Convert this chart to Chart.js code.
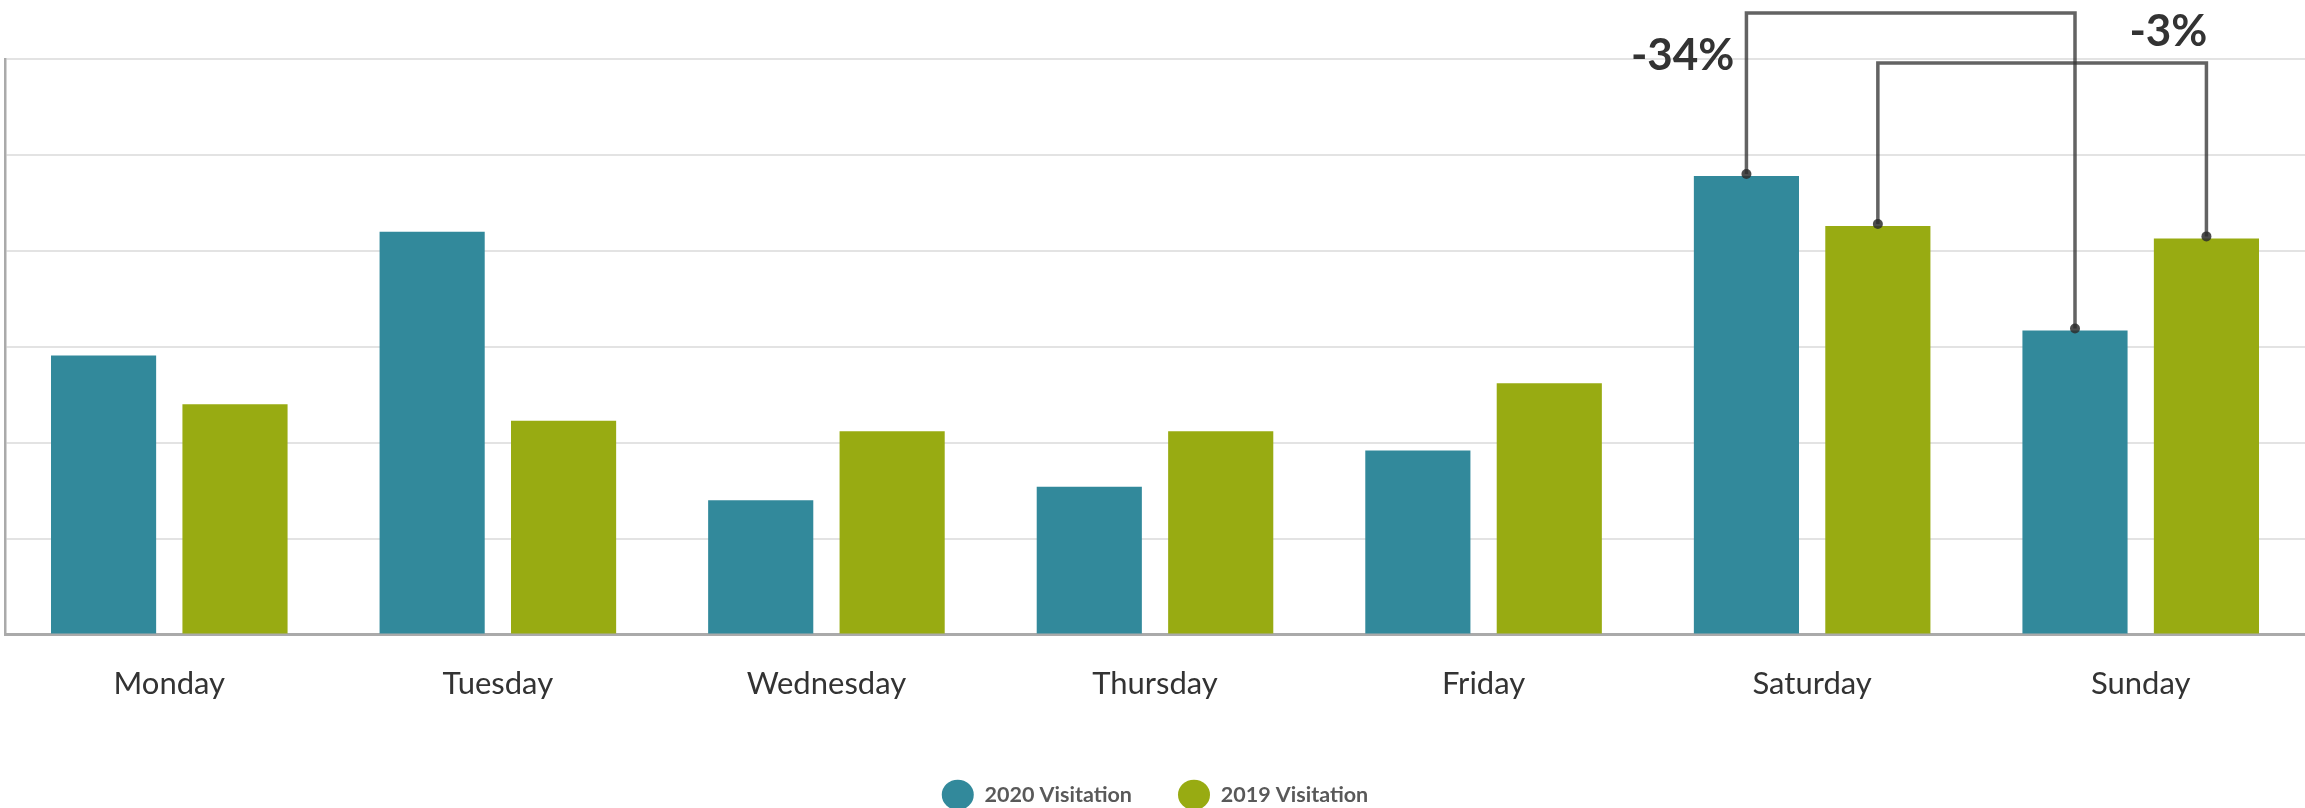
<!DOCTYPE html>
<html>
<head>
<meta charset="utf-8">
<script src="https://cdn.jsdelivr.net/npm/chart.js@4/dist/chart.umd.min.js"></script>
<style>
  html, body { margin: 0; padding: 0; background: #ffffff; }
  #wrap { width: 2305px; height: 808px; }
</style>
</head>
<body>
<div id="wrap"><canvas id="c" width="2305" height="808"></canvas></div>
<script>
// ---- data (y axis is unlabeled, values in gridline units) ----
const days = ['Monday', 'Tuesday', 'Wednesday', 'Thursday', 'Friday', 'Saturday', 'Sunday'];
const visitation2020 = [2.91, 4.20, 1.40, 1.54, 1.92, 4.78, 3.17];
const visitation2019 = [2.40, 2.23, 2.12, 2.12, 2.62, 4.26, 4.13];
const seriesNames = ['2020 Visitation', '2019 Visitation'];
const yTicks = [0, 1, 2, 3, 4, 5, 6];
// weekend comparison brackets
const bracketSeries = [0, 1];
const bracketFrom = ['Saturday', 'Saturday'];
const bracketTo = ['Sunday', 'Sunday'];
const bracketLabels = ['-34%', '-3%'];

const TEAL = '#32899b';
const OLIVE = '#98ab12';

const bracketPlugin = {
  id: 'weekendBrackets',
  afterDatasetsDraw(chart) {
    const ctx = chart.ctx;
    const top = chart.chartArea.top;
    const levels = [top - 46, top + 4];          // horizontal bracket heights
    const labelBase = [top + 11, top - 13];      // label baselines
    ctx.save();
    for (let k = 0; k < bracketSeries.length; k++) {
      const meta = chart.getDatasetMeta(bracketSeries[k]);
      const a = meta.data[days.indexOf(bracketFrom[k])];
      const b = meta.data[days.indexOf(bracketTo[k])];
      const lvl = levels[k];
      ctx.strokeStyle = 'rgba(55,55,55,0.78)';
      ctx.lineWidth = 3.5;
      ctx.lineJoin = 'miter';
      ctx.beginPath();
      ctx.moveTo(a.x, a.y - 2);
      ctx.lineTo(a.x, lvl);
      ctx.lineTo(b.x, lvl);
      ctx.lineTo(b.x, b.y - 2);
      ctx.stroke();
      ctx.fillStyle = 'rgba(45,45,45,0.85)';
      [a, b].forEach(p => {
        ctx.beginPath();
        ctx.arc(p.x, p.y - 2, 5, 0, Math.PI * 2);
        ctx.fill();
      });
      ctx.fillStyle = '#333333';
      ctx.font = 'bold 44px Lato';
      ctx.textAlign = 'right';
      ctx.textBaseline = 'alphabetic';
      if (k === 0) {
        ctx.fillText(bracketLabels[k], a.x - 12, labelBase[k]);
      } else {
        ctx.fillText(bracketLabels[k], b.x + 1, labelBase[k]);
      }
    }
    ctx.restore();
  }
};

new Chart(document.getElementById('c'), {
  type: 'bar',
  data: {
    labels: days,
    datasets: [
      { label: seriesNames[0], data: visitation2020, backgroundColor: TEAL, borderWidth: 0, pointStyle: 'circle' },
      { label: seriesNames[1], data: visitation2019, backgroundColor: OLIVE, borderWidth: 0, pointStyle: 'circle' }
    ]
  },
  options: {
    responsive: false,
    animation: false,
    devicePixelRatio: 1,
    layout: { padding: { top: 59, left: 5, right: 0, bottom: -7.6 } },
    datasets: { bar: { categoryPercentage: 0.8, barPercentage: 0.8 } },
    plugins: {
      tooltip: { enabled: false },
      legend: {
        position: 'bottom',
        align: 'center',
        labels: {
          usePointStyle: true,
          pointStyle: 'circle',
          pointStyleWidth: 32,
          boxHeight: 22.6,
          padding: 46,
          color: '#595959',
          font: { family: 'Lato', size: 21.5, weight: 'bold' }
        }
      }
    },
    scales: {
      x: {
        grid: { display: false, drawTicks: false },
        border: { display: true, color: '#aaaaaa', width: 3 },
        ticks: { color: '#333333', padding: 31, font: { family: 'Lato', size: 31 } },
        afterFit: (scale) => { scale.height = 103.5; }
      },
      y: {
        min: yTicks[0],
        max: yTicks[yTicks.length - 1],
        afterBuildTicks: (scale) => { scale.ticks = yTicks.map(v => ({ value: v })); },
        grid: { color: '#e3e3e3', lineWidth: 2, drawTicks: false },
        border: { display: true, color: '#aaaaaa', width: 2.5 },
        ticks: { display: false }
      }
    }
  },
  plugins: [bracketPlugin]
});
</script>
</body>
</html>
